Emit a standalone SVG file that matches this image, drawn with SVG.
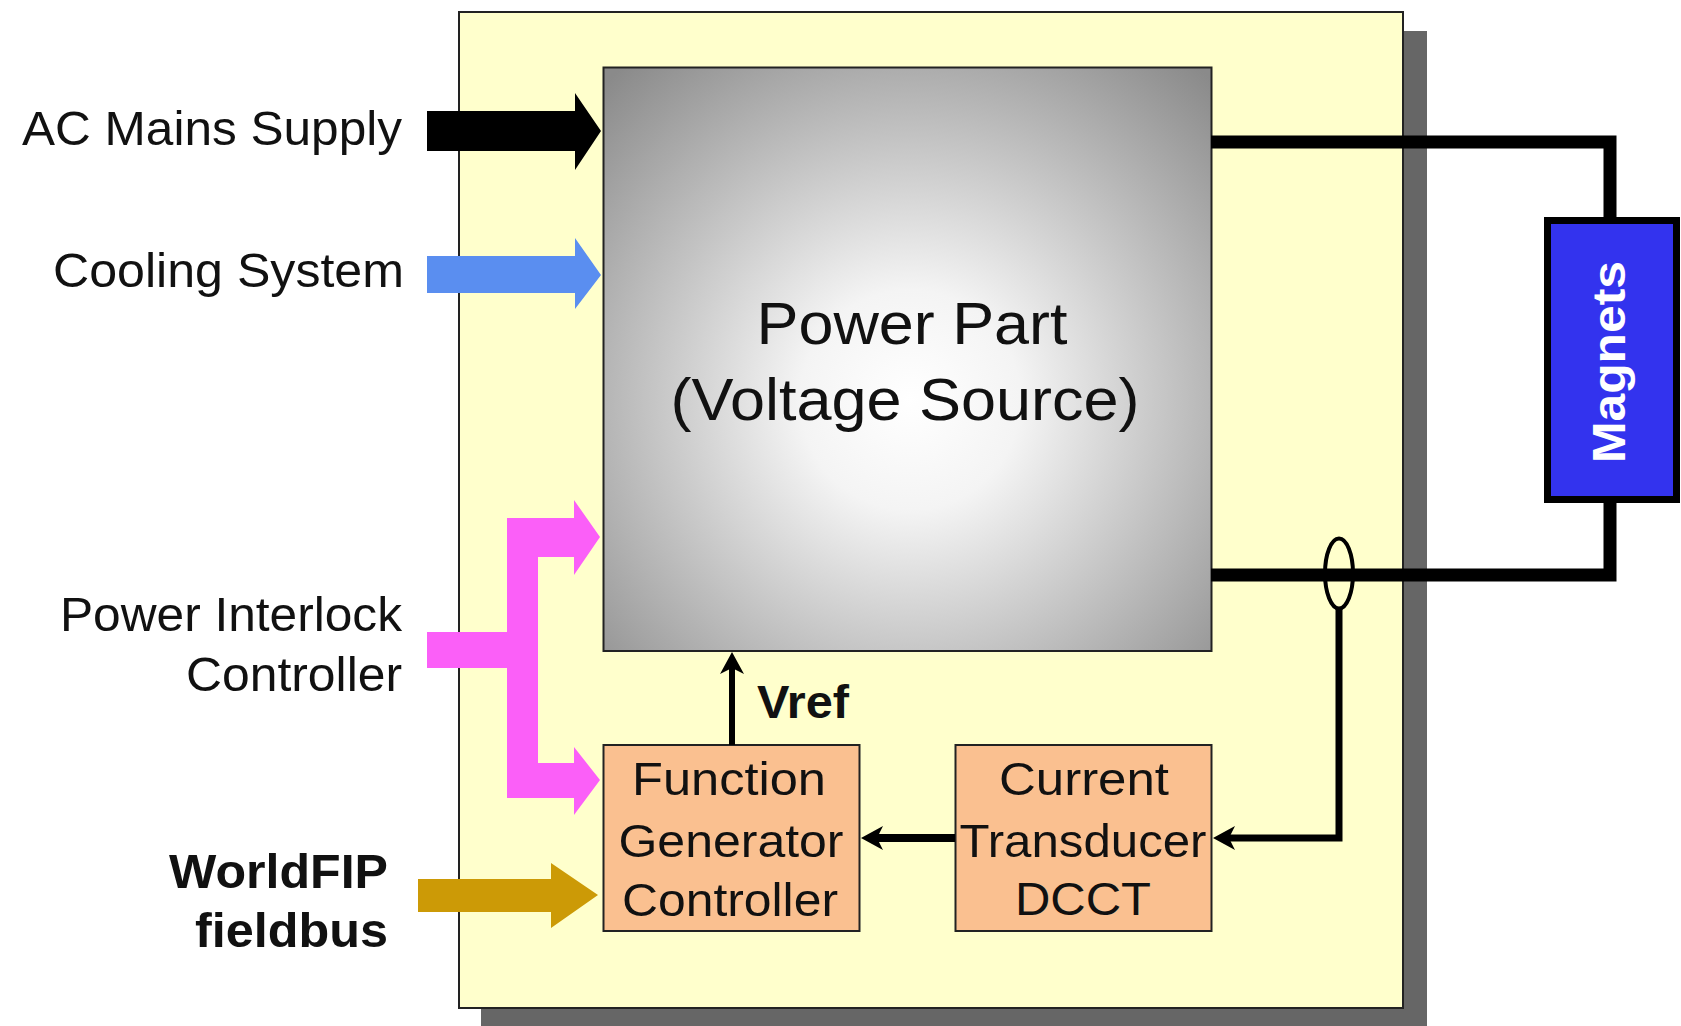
<svg xmlns="http://www.w3.org/2000/svg" width="1681" height="1026" viewBox="0 0 1681 1026">
  <style>
    text { font-family: "Liberation Sans", Arial, sans-serif; fill: #111; }
    .lbl { font-size: 48px; text-anchor: end; }
    .bold { font-weight: bold; }
    .box { font-size: 47px; text-anchor: middle; }
    .wire { fill: none; stroke: #000; stroke-width: 13; stroke-linejoin: miter; }
    .sig { fill: none; stroke: #000; }
  </style>
  <defs>
    <radialGradient id="pg" gradientUnits="userSpaceOnUse" cx="910" cy="400" r="440">
      <stop offset="0" stop-color="#ffffff"/>
      <stop offset="0.25" stop-color="#f4f4f4"/>
      <stop offset="1" stop-color="#8a8a8a"/>
    </radialGradient>
    <marker id="ah" markerUnits="userSpaceOnUse" markerWidth="22" markerHeight="24" refX="6" refY="12" orient="auto" viewBox="0 0 22 24">
      <path d="M0,0 L22,12 L0,24 L6,12 Z" fill="#000"/>
    </marker>
  </defs>

  <rect width="1681" height="1026" fill="#ffffff"/>

  <g id="enclosure">
    <rect x="481" y="31" width="946" height="1000" fill="#666666"/>
    <rect x="459" y="12" width="944" height="996" fill="#ffffcc" stroke="#222" stroke-width="2"/>
  </g>

  <g id="power-part">
    <rect x="603.5" y="67.5" width="608" height="583.5" fill="url(#pg)" stroke="#222" stroke-width="2"/>
    <text x="912" y="344" font-size="60" text-anchor="middle" textLength="311" lengthAdjust="spacingAndGlyphs">Power Part</text>
    <text x="905" y="420" font-size="60" text-anchor="middle" textLength="469" lengthAdjust="spacingAndGlyphs">(Voltage Source)</text>
  </g>

  <g id="function-generator">
    <rect x="603.5" y="745" width="256" height="186" fill="#fac090" stroke="#222" stroke-width="2"/>
    <text class="box" x="729" y="795" textLength="194" lengthAdjust="spacingAndGlyphs">Function</text>
    <text class="box" x="731" y="857" textLength="225" lengthAdjust="spacingAndGlyphs">Generator</text>
    <text class="box" x="730" y="916" textLength="216" lengthAdjust="spacingAndGlyphs">Controller</text>
  </g>

  <g id="current-transducer">
    <rect x="955.5" y="745" width="256" height="186" fill="#fac090" stroke="#222" stroke-width="2"/>
    <text class="box" x="1084" y="795" textLength="170" lengthAdjust="spacingAndGlyphs">Current</text>
    <text class="box" x="1083" y="857" textLength="247" lengthAdjust="spacingAndGlyphs">Transducer</text>
    <text class="box" x="1083" y="915" textLength="136" lengthAdjust="spacingAndGlyphs">DCCT</text>
  </g>

  <g id="magnets">
    <rect x="1547.5" y="220.5" width="129" height="279" fill="#3333ee" stroke="#000" stroke-width="7"/>
    <text x="0" y="0" font-size="46" font-weight="bold" text-anchor="middle" style="fill:#ffffff" textLength="202" lengthAdjust="spacingAndGlyphs" transform="translate(1625,362) rotate(-90)">Magnets</text>
  </g>

  <g id="ac-mains">
    <text class="lbl" x="402" y="145" textLength="380" lengthAdjust="spacingAndGlyphs">AC Mains Supply</text>
  </g>
  <g id="cooling">
    <text class="lbl" x="404" y="287" textLength="351" lengthAdjust="spacingAndGlyphs">Cooling System</text>
  </g>
  <g id="interlock">
    <text class="lbl" x="402" y="631" textLength="342" lengthAdjust="spacingAndGlyphs">Power Interlock</text>
    <text class="lbl" x="402" y="691" textLength="216" lengthAdjust="spacingAndGlyphs">Controller</text>
  </g>
  <g id="worldfip">
    <text class="lbl bold" x="388" y="888" textLength="219" lengthAdjust="spacingAndGlyphs">WorldFIP</text>
    <text class="lbl bold" x="388" y="947" textLength="193" lengthAdjust="spacingAndGlyphs">fieldbus</text>
  </g>

  <g id="connectors">
    <!-- block arrows -->
    <polygon points="427,111 575,111 575,93 601,131 575,170 575,151 427,151" fill="#000"/>
    <polygon points="427,256 575,256 575,238 601,275 575,309 575,293 427,293" fill="#5a8ef0"/>
    <polygon points="427,632 507,632 507,518 574,518 574,500 600,537 574,575 574,557 538,557 538,763 574,763 574,747 600,780 574,815 574,798 507,798 507,668 427,668" fill="#fb5ff8"/>
    <polygon points="418,879 551,879 551,863 598,895 551,928 551,912 418,912" fill="#cc9a06"/>

    <!-- power circuit -->
    <polyline class="wire" points="1211,142 1610,142 1610,220"/>
    <polyline class="wire" points="1211,575 1610,575 1610,500"/>
    <ellipse cx="1339" cy="573.5" rx="14" ry="35" fill="none" stroke="#000" stroke-width="4"/>

    <!-- signals -->
    <line class="sig" x1="732" y1="745" x2="732" y2="668" stroke-width="6" marker-end="url(#ah)"/>
    <text class="bold" x="757" y="718" font-size="47" textLength="92" lengthAdjust="spacingAndGlyphs">Vref</text>
    <line class="sig" x1="955" y1="838" x2="877" y2="838" stroke-width="8" marker-end="url(#ah)"/>
    <polyline class="sig" points="1339,608 1339,838 1229,838" stroke-width="7" marker-end="url(#ah)"/>
  </g>
</svg>
